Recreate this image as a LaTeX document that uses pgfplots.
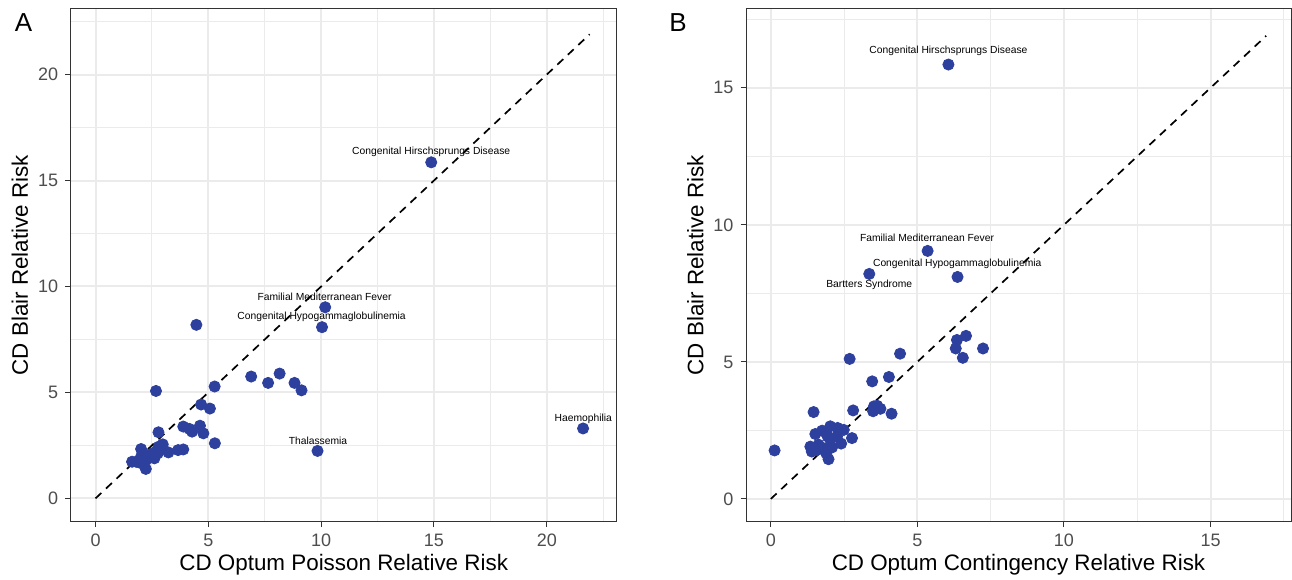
\documentclass[border=0pt]{standalone}
\usepackage{fontspec}
\setmainfont{Liberation Sans}
\usepackage{pgfplots}
\pgfplotsset{compat=1.18}

\definecolor{ptblue}{RGB}{46,64,158}
\definecolor{grey92}{RGB}{235,235,235}
\definecolor{grey30}{RGB}{77,77,77}
\definecolor{grey20}{RGB}{51,51,51}

\tikzset{
  lbl/.style={font=\fontsize{5.15}{6}\selectfont, anchor=center, inner sep=0pt},
  pts/.style={only marks, mark=*, mark size=2.8pt, color=ptblue},
  diag/.style={black, line width=0.85pt, dash pattern=on 4pt off 3.2pt},
}

\pgfplotsset{
  rrpanel/.style={
    scale only axis,
    height=256.4pt,
    axis line style={draw=grey20, line width=0.5pt},
    grid=both,
    major grid style={draw=grey92, line width=1pt},
    minor grid style={draw=grey92, line width=0.5pt},
    tick align=outside,
    tick pos=left,
    major tick length=2.75pt,
    minor tick length=0pt,
    tick style={draw=grey20, line width=0.5pt},
    ticklabel style={font=\fontsize{9}{10}\selectfont, text=grey30},
    /pgf/number format/assume math mode=true,
    label style={font=\fontsize{11.2}{13}\selectfont},
    xlabel style={at={(axis description cs:0.5,-0.084)}, anchor=center},
    ylabel style={at={(axis description cs:-0.093,0.5)}, anchor=center},
    ylabel={CD Blair Relative Risk},
  },
}

% panel A: Optum Poisson RR vs Blair RR
\pgfplotstableread{
x y
14.88 15.86
10.18 9.02
10.04 8.08
4.47 8.19
21.61 3.30
9.84 2.24
2.68 5.07
5.28 5.28
6.90 5.75
7.65 5.45
8.16 5.89
8.82 5.45
9.13 5.10
4.68 4.43
5.07 4.24
3.89 3.39
4.16 3.28
4.28 3.15
4.63 3.43
4.78 3.07
5.29 2.60
2.79 3.12
3.23 2.17
3.66 2.28
3.89 2.31
2.98 2.55
2.80 2.44
2.02 2.33
1.62 1.73
2.23 1.39
1.80 1.73
2.02 1.97
2.24 1.81
2.43 1.97
2.61 1.89
2.68 2.20
2.83 2.36
2.76 2.13
2.54 2.13
2.35 2.05
2.17 1.89
1.95 1.69
}\poisson

% panel B: Optum contingency RR vs Blair RR
\pgfplotstableread{
x y
6.06 15.85
5.35 9.05
3.36 8.21
6.37 8.10
0.13 1.77
1.46 3.17
2.69 5.11
4.41 5.30
3.46 4.29
4.03 4.45
2.81 3.23
3.52 3.38
3.63 3.40
3.74 3.29
3.49 3.20
4.12 3.11
6.35 5.80
6.66 5.95
6.31 5.49
6.55 5.15
7.24 5.49
2.77 2.22
2.40 2.02
2.03 2.65
2.28 2.59
2.49 2.52
1.75 2.49
1.52 2.37
1.97 1.45
1.35 1.91
1.40 1.73
1.63 1.98
1.80 1.85
2.09 1.88
1.94 2.28
2.03 2.16
2.26 2.28
1.58 1.79
1.89 1.67
}\contingency

\begin{document}
\begin{tikzpicture}
\useasboundingbox (0,0) rectangle (646pt,289.5pt);

\begin{axis}[rrpanel,
  at={(35.35pt,28.65pt)}, anchor=south west,
  width=273pt,
  xmin=-1.1, xmax=23.1, ymin=-1.1, ymax=23.1,
  xtick={0,5,10,15,20}, ytick={0,5,10,15,20},
  minor xtick={2.5,7.5,12.5,17.5,22.5},
  minor ytick={2.5,7.5,12.5,17.5,22.5},
  xlabel={CD Optum Poisson Relative Risk},
]
\addplot[diag] coordinates {(0,0) (21.9,21.9)};
\addplot[pts] table {\poisson};
\node[lbl] at (axis cs:14.88,16.35) {Congenital Hirschsprungs Disease};
\node[lbl] at (axis cs:10.15,9.51) {Familial Mediterranean Fever};
\node[lbl] at (axis cs:10.02,8.57) {Congenital Hypogammaglobulinemia};
\node[lbl] at (axis cs:9.86,2.73) {Thalassemia};
\node[lbl] at (axis cs:21.62,3.74) {Haemophilia};
\end{axis}

\begin{axis}[rrpanel,
  at={(373pt,28.65pt)}, anchor=south west,
  width=272.5pt,
  xmin=-0.845, xmax=17.745, ymin=-0.83, ymax=17.88,
  xtick={0,5,10,15}, ytick={0,5,10,15},
  minor xtick={2.5,7.5,12.5,17.5},
  minor ytick={2.5,7.5,12.5,17.5},
  xlabel={CD Optum Contingency Relative Risk},
]
\addplot[diag] coordinates {(0,0) (16.9,16.9)};
\addplot[pts] table {\contingency};
\node[lbl] at (axis cs:6.06,16.34) {Congenital Hirschsprungs Disease};
\node[lbl] at (axis cs:5.33,9.54) {Familial Mediterranean Fever};
\node[lbl] at (axis cs:6.36,8.57) {Congenital Hypogammaglobulinemia};
\node[lbl] at (axis cs:3.36,7.80) {Bartters Syndrome};
\end{axis}

\node[font=\fontsize{13}{15}\selectfont, anchor=center] at (11.75pt,278pt) {A};
\node[font=\fontsize{13}{15}\selectfont, anchor=center] at (339pt,278pt) {B};
\end{tikzpicture}
\end{document}
